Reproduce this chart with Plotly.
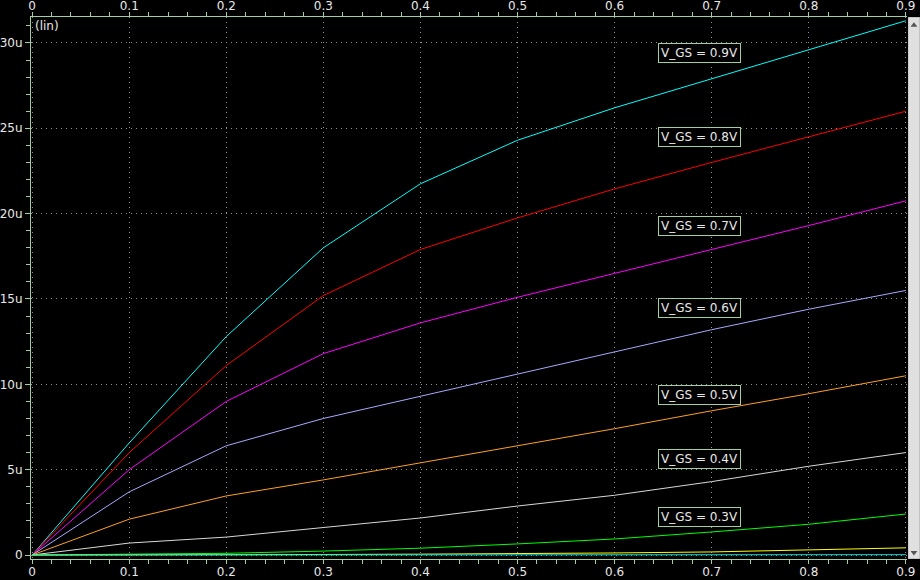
import plotly.graph_objects as go

vds = [0.0, 0.1, 0.2, 0.3, 0.4, 0.5, 0.6, 0.7, 0.8, 0.9]

# drain currents in microamps
id_09 = [0, 6.57, 12.8, 18.0, 21.75, 24.3, 26.2, 27.9, 29.6, 31.3]
id_08 = [0, 6.0, 11.1, 15.2, 17.9, 19.75, 21.45, 23.0, 24.5, 26.0]
id_07 = [0, 5.0, 9.0, 11.8, 13.6, 15.1, 16.5, 17.9, 19.3, 20.75]
id_06 = [0, 3.7, 6.4, 8.0, 9.3, 10.6, 11.9, 13.2, 14.4, 15.5]
id_05 = [0, 2.1, 3.46, 4.4, 5.4, 6.4, 7.4, 8.45, 9.45, 10.5]
id_04 = [0, 0.7, 1.05, 1.6, 2.17, 2.87, 3.5, 4.3, 5.2, 6.0]
id_03 = [0, 0.03, 0.1, 0.23, 0.4, 0.65, 0.94, 1.35, 1.8, 2.4]
id_02 = [0, 0.0, 0.01, 0.03, 0.05, 0.07, 0.12, 0.18, 0.3, 0.42]
id_01 = [0, 0.0, 0.0, 0.0, 0.0, 0.005, 0.01, 0.01, 0.015, 0.02]

series = [
    ("V_GS = 0.9V", id_09, "#00ffff"),
    ("V_GS = 0.8V", id_08, "#ff0000"),
    ("V_GS = 0.7V", id_07, "#ff00ff"),
    ("V_GS = 0.6V", id_06, "#a8a8ff"),
    ("V_GS = 0.5V", id_05, "#ffa020"),
    ("V_GS = 0.4V", id_04, "#d8d8d8"),
    ("V_GS = 0.3V", id_03, "#00ff00"),
    ("V_GS = 0.2V", id_02, "#ffff00"),
    ("V_GS = 0.1V", id_01, "#00e0e0"),
]

label_names = ["V_GS = 0.9V", "V_GS = 0.8V", "V_GS = 0.7V", "V_GS = 0.6V",
               "V_GS = 0.5V", "V_GS = 0.4V", "V_GS = 0.3V"]
label_y = [29.4, 24.5, 19.3, 14.5, 9.4, 5.6, 2.2]

x_ticks = [0, 0.1, 0.2, 0.3, 0.4, 0.5, 0.6, 0.7, 0.8, 0.9]
x_ticktext = ["0", "0.1", "0.2", "0.3", "0.4", "0.5", "0.6", "0.7", "0.8", "0.9"]
y_ticks = [0, 5e-6, 10e-6, 15e-6, 20e-6, 25e-6, 30e-6]
y_ticktext = ["0", "5u", "10u", "15u", "20u", "25u", "30u"]

AX = "#a0d0a0"
GRID = "#909090"
FONT = dict(family="DejaVu Sans", size=12, color="#e8e8e8")
TFONT = dict(family="DejaVu Sans", size=12, color="#e8e8e8")

DOM_END = 876 / 889

fig = go.Figure()
for name, vals, col in series:
    fig.add_trace(go.Scatter(x=vds, y=[v * 1e-6 for v in vals], mode="lines",
                             line=dict(color=col, width=1), name=name,
                             showlegend=False, hoverinfo="skip"))

xr = [-0.0012, 0.9012]
common_x = dict(range=xr, tickvals=x_ticks, ticktext=x_ticktext, showline=True,
                linecolor=AX, linewidth=1, ticks="outside", ticklen=4, tickcolor=AX,
                tickfont=TFONT, zeroline=False, automargin=False,
                domain=[0, DOM_END],
                minor=dict(dtick=0.02, ticks="outside", ticklen=4, tickcolor=AX, showgrid=False))

hidden = dict(visible=False, range=[0, 1], fixedrange=True, automargin=False)

fig.update_layout(
    width=920, height=580,
    paper_bgcolor="#000000", plot_bgcolor="#000000",
    margin=dict(l=31, r=0, t=17, b=21),
    font=FONT,
    xaxis=dict(**common_x, side="bottom", showgrid=True, gridcolor=GRID,
               griddash="1px,4px", gridwidth=1, ticklabelstandoff=-2),
    xaxis2=dict(**common_x, side="top", overlaying="x", showgrid=False,
                matches="x", ticklabelstandoff=-3),
    yaxis=dict(range=[-0.234e-6, 31.52e-6], tickvals=y_ticks, ticktext=y_ticktext,
               showline=True, linecolor=AX, linewidth=1, ticks="outside", ticklen=5,
               tickcolor=AX, tickfont=TFONT, zeroline=False, showgrid=True,
               gridcolor=GRID, griddash="1px,4px", gridwidth=1, automargin=False,
               minor=dict(dtick=1e-6, ticks="outside", ticklen=4, tickcolor=AX,
                          showgrid=False)),
    xaxis3=dict(**hidden, domain=[DOM_END + 0.001, 1.0], anchor="y3"),
    yaxis3=dict(**hidden, domain=[0, 1], anchor="x3"),
)
# invisible trace to activate top axis
fig.add_trace(go.Scatter(x=[0], y=[0], xaxis="x2", mode="markers",
                         marker=dict(opacity=0), showlegend=False, hoverinfo="skip"))

# scrollbar decoration as a filled trace on its own small axis pair
fig.add_trace(go.Scatter(x=[0, 1, 1, 0, 0], y=[0, 0, 1, 1, 0], xaxis="x3", yaxis="y3",
                         mode="lines", fill="toself", fillcolor="#e0e0e0",
                         line=dict(color="#a8a8a8", width=1), showlegend=False,
                         hoverinfo="skip", cliponaxis=False))
fig.add_trace(go.Scatter(x=[0.5, 0.5], y=[0.985, 0.012], xaxis="x3", yaxis="y3",
                         mode="markers", marker=dict(symbol=["triangle-up", "triangle-down"],
                                                     size=6, color="#555555"),
                         showlegend=False, hoverinfo="skip", cliponaxis=False))

for name, yv in zip(label_names, label_y):
    fig.add_annotation(x=0.687, y=yv * 1e-6, xref="x", yref="y", text=name,
                       showarrow=False, font=FONT, bgcolor="#000000",
                       bordercolor=AX, borderwidth=1, borderpad=2)

fig.add_annotation(x=0.002, y=1.0, xref="paper", yref="paper", text="(lin)",
                   showarrow=False, xanchor="left", yanchor="top", font=FONT)

fig.write_html("out.html", config={"displayModeBar": False},
               post_script="document.body.style.margin='0';document.body.style.background='#000';")
